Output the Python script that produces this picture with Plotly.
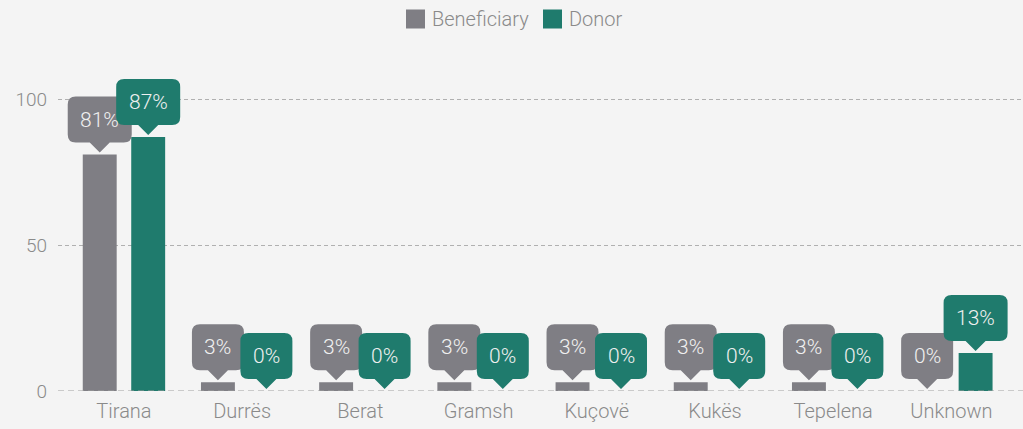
import plotly.graph_objects as go

# data
cities = ["Tirana", "Durrës", "Berat", "Gramsh", "Kuçovë", "Kukës", "Tepelena", "Unknown"]
beneficiary = [81, 3, 3, 3, 3, 3, 3, 0]
donor = [87, 0, 0, 0, 0, 0, 0, 13]
series_names = ["Beneficiary", "Donor"]

GRAY = "#7f7e84"
TEAL = "#1f7b6d"
TEXT = "#8a8a8a"
FONT = "Roboto"

# plot area in pixels (left, right, top, bottom)
L, R, T, B = 58, 1023, 62, 391

fig = go.Figure()
fig.add_trace(go.Bar(name=series_names[0], x=cities, y=beneficiary,
                     marker=dict(color=GRAY, line=dict(width=0))))
fig.add_trace(go.Bar(name=series_names[1], x=cities, y=donor,
                     marker=dict(color=TEAL, line=dict(width=0))))


def bubble_path(w, h=46, tri=10, half=10, gap=2, r=8):
    """callout box with a pointer, in pixels relative to the bar top"""
    b = gap + tri
    t = b + h
    x0, x1 = -w / 2, w / 2
    return (f"M 0 {gap} L {-half} {b} L {x0 + r} {b} Q {x0} {b} {x0} {b + r} "
            f"L {x0} {t - r} Q {x0} {t} {x0 + r} {t} L {x1 - r} {t} Q {x1} {t} {x1} {t - r} "
            f"L {x1} {b + r} Q {x1} {b} {x1 - r} {b} L {half} {b} Z")


offset = 0.205
for i, city in enumerate(cities):
    for vals, color, dx in [(beneficiary, GRAY, -offset), (donor, TEAL, offset)]:
        v = vals[i]
        label = f"{v}%"
        w = 52 if len(label) <= 2 else 64
        fig.add_shape(type="path", xref="x", yref="y",
                      xsizemode="pixel", ysizemode="pixel",
                      xanchor=i + dx, yanchor=v,
                      path=bubble_path(w), fillcolor=color,
                      line=dict(width=0), layer="above")
        fig.add_annotation(x=i + dx, y=v, xref="x", yref="y", text=label,
                           showarrow=False, yshift=35,
                           font=dict(family=FONT, size=21, color="#f0f0f0", weight=300))

# dashed baseline at 0
fig.add_shape(type="line", xref="paper", yref="y", x0=0, x1=1, y0=0, y1=0,
              line=dict(color="#a0a0a0", width=1, dash="6px,4px"), layer="above")


# custom legend (bigger swatches than the built-in one)
def px(x):
    return (x - L) / (R - L)


def py(y):
    return (B - y) / (B - T)


legend_items = [(series_names[0], GRAY, 406), (series_names[1], TEAL, 543)]
for name, color, x in legend_items:
    fig.add_shape(type="rect", xref="paper", yref="paper",
                  x0=px(x), x1=px(x + 19), y0=py(28.5), y1=py(9.5),
                  fillcolor=color, line=dict(width=0))
    fig.add_annotation(xref="paper", yref="paper", x=px(x + 24), y=py(19),
                       xanchor="left", yanchor="middle", showarrow=False, text=name,
                       font=dict(family=FONT, size=20, color=TEXT, weight=300))

fig.update_layout(
    width=1023, height=429,
    paper_bgcolor="#f4f4f4", plot_bgcolor="#f4f4f4",
    margin=dict(l=L, r=1023 - R, t=T, b=429 - B),
    barmode="group", bargap=0.18, bargroupgap=0.3,
    font=dict(family=FONT, color=TEXT, size=18, weight=300),
    showlegend=False,
)
fig.update_xaxes(range=[-0.558, 7.606], showgrid=False, zeroline=False,
                 showline=False, ticks="", ticklabelstandoff=6,
                 tickfont=dict(family=FONT, size=20, color=TEXT, weight=300))
fig.update_yaxes(range=[0, 112.7], tickvals=[0, 50, 100], showgrid=True,
                 gridcolor="#b0b0b0", griddash="4px,3px", gridwidth=1,
                 zeroline=False, showline=False, ticks="", ticklabelstandoff=10,
                 tickfont=dict(family=FONT, size=19, color=TEXT, weight=300))

fig.write_html("out.html", config={"displayModeBar": False},
               post_script="document.body.style.margin='0';")
